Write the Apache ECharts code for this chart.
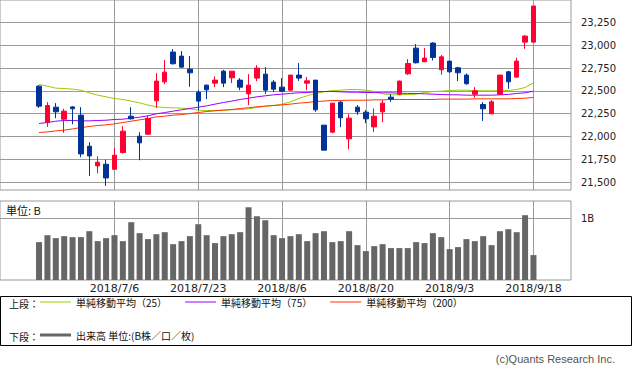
<!DOCTYPE html>
<html><head><meta charset="utf-8">
<script src="https://cdn.jsdelivr.net/npm/echarts@6/dist/echarts.min.js"></script>
<style>html,body{margin:0;padding:0;background:#fff}#c{width:633px;height:370px}</style>
</head><body><div id="c"></div>
<script>
const dates = ["2018/6/25","2018/6/26","2018/6/27","2018/6/28","2018/6/29","2018/7/2","2018/7/3","2018/7/4","2018/7/5","2018/7/6",
"2018/7/9","2018/7/10","2018/7/11","2018/7/12","2018/7/13","2018/7/17","2018/7/18","2018/7/19","2018/7/20","2018/7/23",
"2018/7/24","2018/7/25","2018/7/26","2018/7/27","2018/7/30","2018/7/31","2018/8/1","2018/8/2","2018/8/3","2018/8/6",
"2018/8/7","2018/8/8","2018/8/9","2018/8/10","2018/8/13","2018/8/14","2018/8/15","2018/8/16","2018/8/17","2018/8/20",
"2018/8/21","2018/8/22","2018/8/23","2018/8/24","2018/8/27","2018/8/28","2018/8/29","2018/8/30","2018/8/31","2018/9/3",
"2018/9/4","2018/9/5","2018/9/6","2018/9/7","2018/9/10","2018/9/11","2018/9/12","2018/9/13","2018/9/14","2018/9/18"];

const openV = [22552,22154,22322,22190,22325,22234,21894,21679,21697,21642,
21825,22223,22004,22026,22391,22599,22925,22881,22738,22486,
22563,22585,22716,22643,22618,22468,22640,22683,22596,22541,
22508,22673,22585,22618,22125,22048,22377,21975,22322,22267,
22106,22271,22431,22464,22687,22968,22819,23023,22731,22826,
22753,22673,22464,22351,22249,22464,22709,22651,23034,23034];
const closeV = [22333,22340,22271,22278,22304,21810,21788,21719,21547,21796,
22059,22194,21931,22198,22607,22705,22797,22760,22698,22388,
22512,22618,22585,22716,22541,22563,22749,22508,22519,22497,
22673,22640,22610,22293,21851,22366,22205,22201,22271,22194,
22223,22366,22410,22607,22800,22808,22859,22866,22873,22709,
22698,22578,22501,22304,22380,22673,22599,22826,23100,23429];
const lowV = [22314,22106,22201,22041,22135,21774,21569,21598,21460,21640,
21814,22187,21741,22019,22315,22574,22789,22753,22545,22289,
22410,22541,22541,22585,22508,22344,22607,22468,22486,22490,
22497,22610,22508,22271,21851,22037,22103,21862,22238,22146,
22051,22157,22380,22453,22676,22800,22815,22833,22676,22698,
22607,22567,22424,22172,22249,22457,22523,22640,22961,23034];
const highV = [22563,22377,22366,22304,22333,22322,21938,21785,21748,21873,
22114,22322,22048,22227,22694,22837,22957,22936,22881,22508,
22570,22658,22731,22716,22640,22683,22782,22760,22618,22640,
22673,22804,22651,22618,22125,22366,22388,22245,22344,22289,
22307,22402,22464,22614,22848,23012,22968,23034,22892,22826,
22764,22691,22541,22377,22399,22673,22720,22863,23111,23429];

const ma25 = [22570,22552,22530,22526,22519,22508,22479,22453,22435,22417,
22406,22388,22369,22344,22326,22318,22314,22311,22304,22289,
22285,22285,22289,22293,22296,22304,22318,22333,22340,22355,
22380,22417,22446,22472,22490,22504,22508,22515,22515,22508,
22493,22468,22457,22457,22461,22464,22482,22493,22497,22504,
22508,22508,22501,22501,22501,22501,22504,22515,22537,22588];
const ma75 = [22143,22154,22168,22176,22176,22172,22172,22176,22179,22187,
22190,22201,22212,22227,22249,22263,22278,22293,22307,22322,
22336,22355,22373,22388,22406,22420,22435,22446,22457,22464,
22472,22479,22482,22490,22493,22493,22490,22486,22486,22482,
22482,22479,22479,22475,22472,22472,22468,22464,22461,22457,
22457,22453,22453,22453,22453,22457,22461,22472,22479,22497];
const ma200 = [22044,22051,22062,22070,22084,22099,22110,22121,22128,22139,
22154,22168,22183,22197,22216,22223,22234,22241,22252,22263,
22274,22282,22289,22296,22307,22315,22326,22333,22340,22347,
22355,22366,22373,22384,22388,22395,22395,22398,22398,22398,
22402,22402,22406,22406,22406,22406,22406,22406,22410,22410,
22410,22410,22413,22413,22413,22413,22413,22417,22420,22428];

// volume in billions (B)
const volume = [0.616,0.729,0.681,0.713,0.697,0.697,0.794,0.632,0.681,0.729,
0.632,0.940,0.762,0.665,0.745,0.778,0.583,0.632,0.713,0.907,
0.729,0.600,0.713,0.745,0.778,1.183,1.037,0.972,0.729,0.681,
0.713,0.745,0.632,0.762,0.794,0.616,0.632,0.794,0.567,0.470,
0.551,0.583,0.519,0.519,0.519,0.616,0.600,0.762,0.697,0.502,
0.535,0.665,0.632,0.713,0.567,0.794,0.826,0.778,1.054,0.405];

const dateTickIdx = [9,19,29,39,49,59];
const priceTicks = [21500,21750,22000,22250,22500,22750,23000,23250];
const volumeTicks = [1];

const seriesNames = ['単純移動平均（25）','単純移動平均（75）','単純移動平均（200）'];
const volumeName = '出来高 単位:(B株／口／枚)';

const idx = dates.map((d, i) => i);
const gridColor = '#9a9a9a';
const cjk = "'Noto Sans CJK JP', sans-serif";
const xMin = -4.66, xMax = 63.48;

const chart = echarts.init(document.getElementById('c'), null, {renderer: 'svg', width: 633, height: 370});

const option = {
  animation: false,
  backgroundColor: '#fff',
  textStyle: {fontFamily: cjk},
  grid: [
    {left: 0, top: 0, width: 571, height: 190, show: true, borderColor: gridColor, borderWidth: 1},
    {left: 0, top: 201, width: 571, height: 79, show: true, borderColor: gridColor, borderWidth: 1}
  ],
  xAxis: [
    {type: 'value', gridIndex: 0, min: xMin, max: xMax,
     axisLine: {show: false}, axisTick: {show: false, customValues: dateTickIdx},
     axisLabel: {show: false, customValues: dateTickIdx},
     splitLine: {show: true, lineStyle: {color: gridColor, width: 1}}},
    {type: 'value', gridIndex: 1, min: xMin, max: xMax,
     axisLine: {show: false}, axisTick: {show: false, customValues: dateTickIdx},
     axisLabel: {show: true, customValues: dateTickIdx, formatter: v => dates[Math.round(v)],
       fontSize: 11, fontFamily: 'DejaVu Sans', color: '#222', margin: 3},
     splitLine: {show: true, lineStyle: {color: gridColor, width: 1}}}
  ],
  yAxis: [
    {type: 'value', gridIndex: 0, position: 'right', min: 21415, max: 23495,
     axisLine: {show: false},
     axisTick: {show: true, length: 6, lineStyle: {color: gridColor}, customValues: priceTicks},
     axisLabel: {customValues: priceTicks, formatter: v => v.toLocaleString('en-US'),
       fontSize: 10, fontFamily: 'DejaVu Sans', color: '#222', margin: 10},
     splitLine: {show: true, lineStyle: {color: gridColor, width: 1}}},
    {type: 'value', gridIndex: 1, position: 'right', min: 0, max: 1.285,
     axisLine: {show: false},
     axisTick: {show: true, length: 6, lineStyle: {color: gridColor}, customValues: volumeTicks},
     axisLabel: {customValues: volumeTicks, formatter: v => v + 'B',
       fontSize: 10, fontFamily: 'DejaVu Sans', color: '#222', margin: 10},
     splitLine: {show: true, lineStyle: {color: gridColor, width: 1}}}
  ],
  legend: [
    {data: seriesNames, left: 40, top: 297, icon: 'rect', itemWidth: 31, itemHeight: 1, itemGap: 18,
     padding: 0, selectedMode: false,
     textStyle: {fontSize: 10, color: '#111', fontFamily: cjk}},
    {data: [volumeName], left: 40, top: 330, icon: 'rect', itemWidth: 31, itemHeight: 3, itemGap: 18,
     padding: 0, selectedMode: false,
     textStyle: {fontSize: 10, color: '#111', fontFamily: cjk}}
  ],
  graphic: [
    {type: 'rect', silent: true, shape: {x: 0.5, y: 296.5, width: 631, height: 49},
     style: {fill: 'none', stroke: '#000', lineWidth: 1}},
    {type: 'text', silent: true, x: 9, y: 303.5,
     style: {text: '上段：', fontSize: 10, fontFamily: cjk, fill: '#111', verticalAlign: 'middle'}},
    {type: 'text', silent: true, x: 9, y: 336.5,
     style: {text: '下段：', fontSize: 10, fontFamily: cjk, fill: '#111', verticalAlign: 'middle'}},
    {type: 'text', silent: true, x: 6, y: 209.5,
     style: {text: '単位: B', fontSize: 11, fontFamily: cjk, fill: '#111', verticalAlign: 'middle'}},
    {type: 'text', silent: true, x: 615, y: 358.5,
     style: {text: '(c)Quants Research Inc.', fontSize: 11, fontFamily: "'Liberation Sans', sans-serif",
       fill: '#555', align: 'right', verticalAlign: 'middle'}}
  ],
  series: [
    {name: seriesNames[0], type: 'line', xAxisIndex: 0, yAxisIndex: 0, symbol: 'none',
     color: '#99cc00', lineStyle: {color: '#99cc00', width: 1}, z: 3,
     data: idx.map(i => [i, ma25[i]])},
    {name: seriesNames[1], type: 'line', xAxisIndex: 0, yAxisIndex: 0, symbol: 'none',
     color: '#9900ff', lineStyle: {color: '#9900ff', width: 1}, z: 3,
     data: idx.map(i => [i, ma75[i]])},
    {name: seriesNames[2], type: 'line', xAxisIndex: 0, yAxisIndex: 0, symbol: 'none',
     color: '#ff3300', lineStyle: {color: '#ff3300', width: 1}, z: 3,
     data: idx.map(i => [i, ma200[i]])},
    {name: '日経平均', type: 'candlestick', xAxisIndex: 0, yAxisIndex: 0, barWidth: 5, z: 4,
     encode: {x: 0, y: [1, 2, 3, 4]},
     itemStyle: {color: '#ff0033', color0: '#003399', borderColor: '#ff0033', borderColor0: '#003399', borderWidth: 1},
     data: idx.map(i => [i, openV[i], closeV[i], lowV[i], highV[i]])},
    {name: volumeName, type: 'bar', xAxisIndex: 1, yAxisIndex: 1, barWidth: 6,
     color: '#666666', itemStyle: {color: '#666666'},
     data: idx.map(i => [i, volume[i]])}
  ]
};
chart.setOption(option);
</script>
</body></html>
